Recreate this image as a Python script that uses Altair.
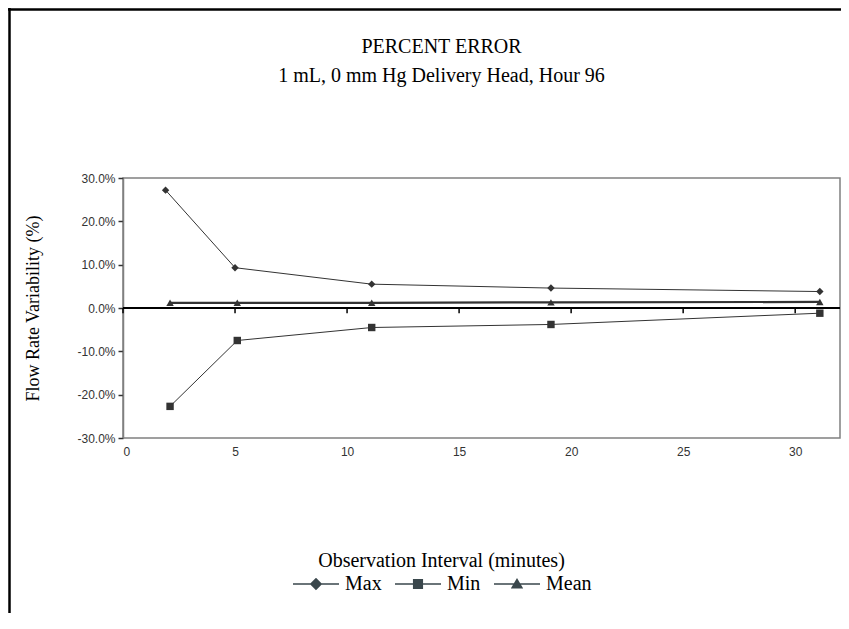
import altair as alt
import pandas as pd

# ---- data ----
series_names = ["Max", "Min", "Mean"]
series_shapes = ["diamond", "square", "triangle-up"]
x_max = [1.9, 5.0, 11.1, 19.1, 31.1]
max_vals = [27.2, 9.3, 5.5, 4.6, 3.8]
x_min = [2.1, 5.1, 11.1, 19.1, 31.1]
min_vals = [-22.7, -7.5, -4.5, -3.8, -1.2]
x_mean = [2.1, 5.1, 11.1, 19.1, 31.1]
mean_vals = [1.2, 1.2, 1.2, 1.3, 1.4]

x_ticks = [0, 5, 10, 15, 20, 25, 30]
y_ticks = [-0.3, -0.2, -0.1, 0.0, 0.1, 0.2, 0.3]

title_lines = ["PERCENT ERROR", "1 mL, 0 mm Hg Delivery Head, Hour 96"]
x_title = "Observation Interval (minutes)"
y_title = "Flow Rate Variability (%)"

rows = []
for name, xs, ys in zip(series_names, [x_max, x_min, x_mean], [max_vals, min_vals, mean_vals]):
    for xv, yv in zip(xs, ys):
        rows.append({"series": name, "x": xv, "pct": yv})
df = pd.DataFrame(rows)
tick_df = pd.DataFrame({"t": x_ticks})

W, H = 717, 260
PAD_L, PAD_T = 115, 170
TOTAL_H = 605

INK = "#333333"
LEG = "#3a474c"

xscale = alt.Scale(domain=[0, 32], nice=False, zero=False)
yscale = alt.Scale(domain=[-0.3, 0.3], nice=False)

y_axis = alt.Axis(
    values=y_ticks, format=".1%",
    labelExpr="replace(datum.label, '\u2212', '-')",
    grid=False, domainColor="#808080", domainWidth=1.5,
    tickColor=INK, tickSize=5, tickWidth=1.5,
    labelFont="Liberation Sans", labelFontSize=12, labelColor=INK, labelPadding=3,
    title=y_title, titleFont="Liberation Serif", titleFontSize=18,
    titleFontWeight="normal", titleColor="black",
    titleX=-90, titleY=H / 2, titleAngle=270, titleBaseline="middle", titleAlign="center",
)
x_axis = alt.Axis(
    values=x_ticks, domain=False, ticks=False, grid=False,
    labelFont="Liberation Sans", labelFontSize=12, labelColor=INK, labelPadding=8,
    title=x_title, titleFont="Liberation Serif", titleFontSize=20,
    titleFontWeight="normal", titleColor="black",
    titleX=318, titleY=122, titleBaseline="middle", titleAlign="center",
)

base = alt.Chart(df).transform_calculate(v="datum.pct / 100")
X = alt.X("x:Q", scale=xscale, axis=x_axis)
Y = alt.Y("v:Q", scale=yscale, axis=y_axis)

# thin lines for Max / Min
thin_lines = base.transform_filter("datum.series != 'Mean'").mark_line(
    color=INK, strokeWidth=1
).encode(x=X, y=Y, detail="series:N")

# thicker line for Mean
mean_line = base.transform_filter("datum.series == 'Mean'").mark_line(
    color=INK, strokeWidth=2.2
).encode(x=X, y=Y)

# zero line with downward tick marks (Excel-style crossing axis)
zero_line = alt.Chart(tick_df).mark_rule(color="black", strokeWidth=2).encode(
    y=alt.Y(datum=0, scale=yscale, axis=y_axis)
)
zero_ticks = alt.Chart(tick_df).mark_rule(color="black", strokeWidth=1.5).encode(
    x=alt.X("t:Q", scale=xscale, axis=x_axis),
    y=alt.Y(datum=0, scale=yscale, axis=y_axis),
    y2=alt.Y2(datum=-0.012),
)

point_layers = []
for name, shp in zip(series_names, series_shapes):
    point_layers.append(
        base.transform_filter(alt.datum.series == name).mark_point(
            filled=True, size=55, color=INK, shape=shp, opacity=1
        ).encode(x=X, y=Y)
    )

# legend symbols: a short line (thin filled bar) with the marker in the middle
bar = "M-1,-0.028H1V0.028H-1Z"
leg_paths = [
    bar + "M0,-0.27L0.27,0L0,0.27L-0.27,0Z",
    bar + "M-0.22,-0.22H0.22V0.22H-0.22Z",
    bar + "M0,-0.26L0.27,0.2H-0.27Z",
]
legend_layer = base.mark_point(filled=True, color=LEG, opacity=0).encode(
    x=X, y=Y,
    shape=alt.Shape("series:N", scale=alt.Scale(domain=series_names, range=leg_paths), legend=alt.Legend(
        orient="none", legendX=169, legendY=382, direction="horizontal", title=None,
        labelFont="Liberation Serif", labelFontSize=20, labelColor="black",
        symbolSize=2116, symbolFillColor=LEG,
        labelOffset=5, columnPadding=10, padding=0,
    )),
)

frame_df = pd.DataFrame({"k": [0]})
frame_top = alt.Chart(frame_df).mark_rule(color="black", strokeWidth=2.5).encode(
    x=alt.value(-PAD_L), x2=alt.value(W + 5), y=alt.value(-PAD_T + 1.5)
)
frame_left = alt.Chart(frame_df).mark_rule(color="black", strokeWidth=2.5).encode(
    x=alt.value(-PAD_L + 1.5), y=alt.value(-PAD_T), y2=alt.value(TOTAL_H)
)

chart = alt.layer(
    thin_lines, mean_line, zero_line, zero_ticks, *point_layers, legend_layer, frame_top, frame_left
).properties(
    width=W, height=H,
    padding={"left": PAD_L, "top": PAD_T, "right": 1, "bottom": TOTAL_H - PAD_T - H},
    autosize=alt.AutoSizeParams(type="none"),
    title=alt.TitleParams(
        text=title_lines, font="Liberation Serif", fontSize=20, fontWeight="normal",
        color="black", anchor="middle", dx=-40, dy=89, lineHeight=29, offset=10,
    ),
    background="white",
).configure_view(stroke="#808080", strokeWidth=1.5)

chart.save("out.html", embed_options={"renderer": "svg", "actions": False})
